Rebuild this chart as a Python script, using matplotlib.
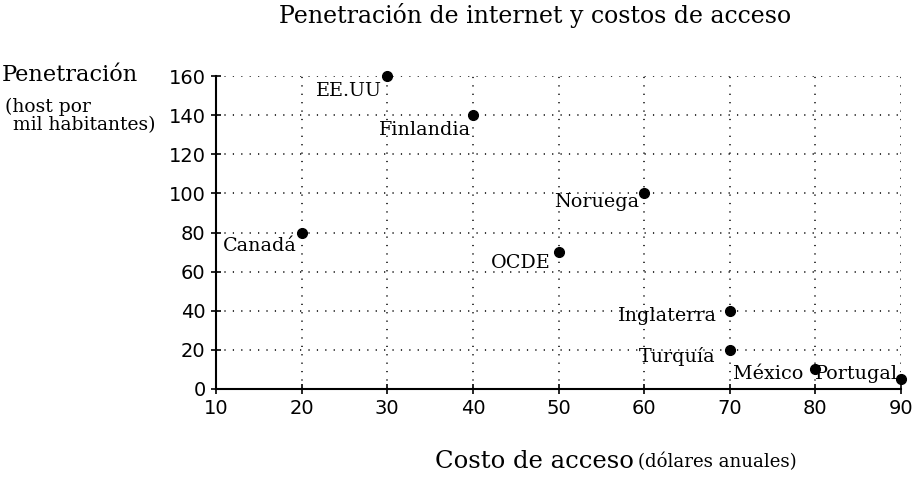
import matplotlib
matplotlib.use("Agg")
import matplotlib.pyplot as plt

# data
paises = ["EE.UU", "Finlandia", "Noruega", "Canadá", "OCDE",
          "Inglaterra", "Turquía", "México", "Portugal"]
costo = [30, 40, 60, 20, 50, 70, 70, 80, 90]
penetracion = [160, 140, 100, 80, 70, 40, 20, 10, 5]

x_ticks = [10, 20, 30, 40, 50, 60, 70, 80, 90]
y_ticks = [0, 20, 40, 60, 80, 100, 120, 140, 160]

# label offsets in points (dx, dy) and alignment
offsets = {
    "EE.UU": (-3.5, -4, "right", "top"),
    "Finlandia": (-1, -4, "right", "top"),
    "Noruega": (-3.5, 0, "right", "top"),
    "Canadá": (-3.5, -3.5, "right", "top"),
    "OCDE": (-6, -8, "right", "center"),
    "Inglaterra": (-9, -3.5, "right", "center"),
    "Turquía": (-10, -5, "right", "center"),
    "México": (-8.5, -3, "right", "center"),
    "Portugal": (-2, 4, "right", "center"),
}

serif = "DejaVu Serif"
sans = "DejaVu Sans"

fig = plt.figure(figsize=(9.14, 4.8), dpi=100)
ax = fig.add_axes([216 / 914, 1 - 389 / 480, (901 - 216) / 914, (389 - 76) / 480])

ax.plot(costo, penetracion, "o", color="black", markersize=7, zorder=3, clip_on=False)

for nombre, x, y in zip(paises, costo, penetracion):
    dx, dy, ha, va = offsets[nombre]
    ax.annotate(nombre, (x, y), xytext=(dx, dy), textcoords="offset points",
                ha=ha, va=va, fontsize=13.8, family=serif, zorder=4)

ax.set_xlim(10, 90)
ax.set_ylim(0, 160)
ax.set_xticks(x_ticks)
ax.set_yticks(y_ticks)
ax.tick_params(direction="inout", length=7, width=1.2, labelsize=14, pad=4)
for lab in ax.get_xticklabels() + ax.get_yticklabels():
    lab.set_family(sans)

ax.grid(True, color="black", linestyle=(0, (0.8, 4.7)), linewidth=1.1)
ax.set_axisbelow(True)
for s in ["top", "right"]:
    ax.spines[s].set_visible(False)
for s in ["left", "bottom"]:
    ax.spines[s].set_linewidth(1.5)

fig.text(535 / 914, 1 - 16 / 480, "Penetración de internet y costos de acceso",
         ha="center", va="center", fontsize=17, family=serif)

fig.text(2 / 914, 1 - 75 / 480, "Penetración", ha="left", va="center",
         fontsize=16.2, family=serif)
fig.text(5 / 914, 1 - 107 / 480, "(host por", ha="left", va="center",
         fontsize=13.5, family=serif)
fig.text(13 / 914, 1 - 125 / 480, "mil habitantes)", ha="left", va="center",
         fontsize=13.5, family=serif)

fig.text(435 / 914, 1 - 462 / 480, "Costo de acceso", ha="left", va="center",
         fontsize=17.5, family=serif)
fig.text(797 / 914, 1 - 462 / 480, "(dólares anuales)", ha="right", va="center",
         fontsize=13.1, family=serif)

fig.savefig("out.png", dpi=100)
